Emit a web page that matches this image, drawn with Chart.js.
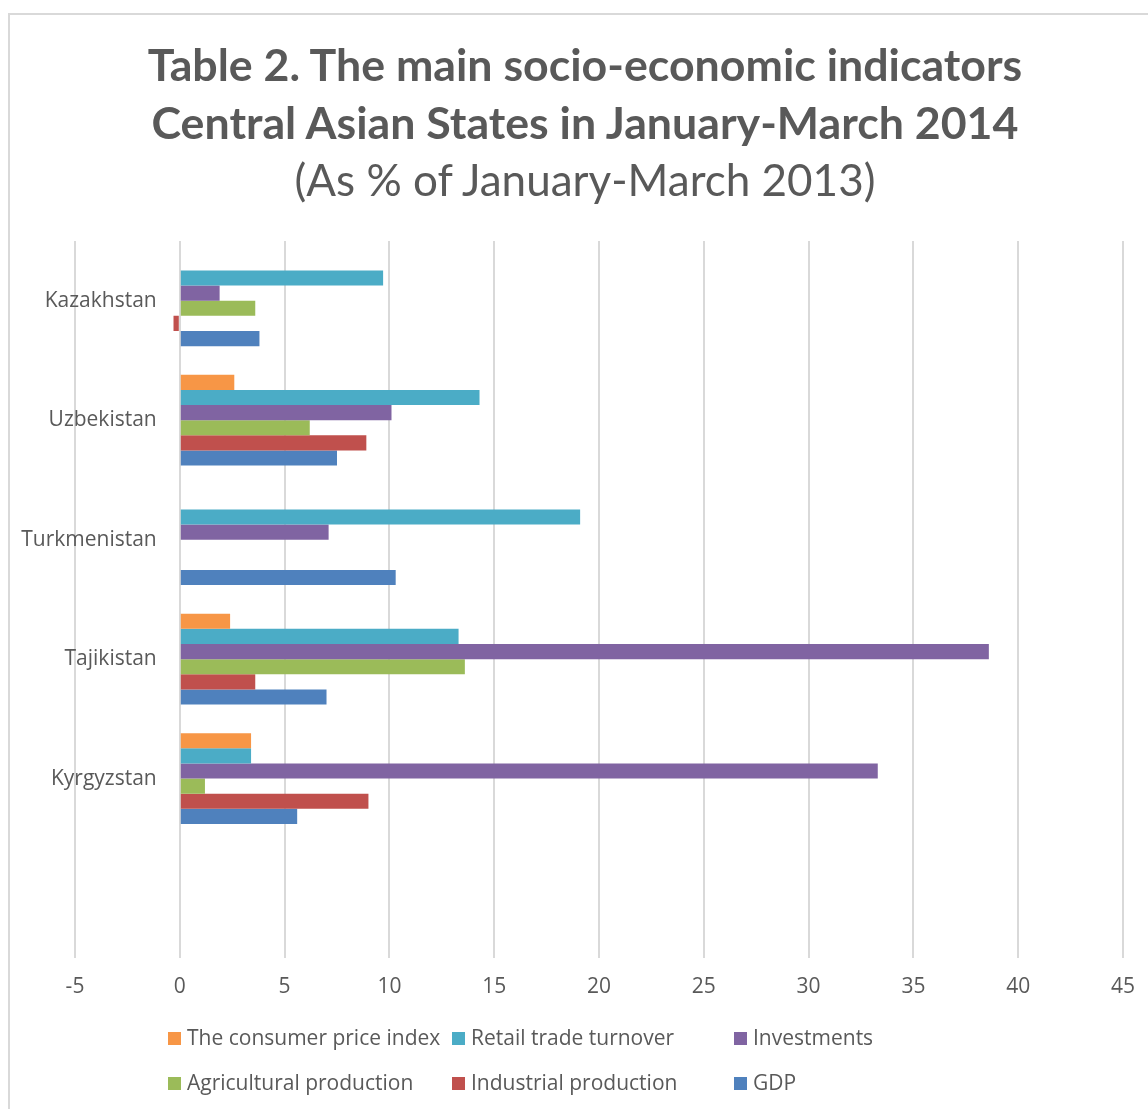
<!DOCTYPE html>
<html>
<head>
<meta charset="utf-8">
<script src="https://cdn.jsdelivr.net/npm/chart.js@4"></script>
<style>
  html, body { margin: 0; padding: 0; background: #ffffff; }
  #wrap { position: relative; width: 1148px; height: 1109px; overflow: hidden; }
  #frame { position: absolute; left: 8px; top: 13px; width: 1200px; height: 1200px; border: 2px solid #d9d9d9; box-sizing: border-box; }
  #c { position: absolute; left: 0; top: 0; }
  #title { position: absolute; left: 0; top: 36px; width: 1170px; text-align: center; font-family: Lato, sans-serif; font-size: 44px; line-height: 57.5px; color: #595959; }
  #title .b { font-weight: bold; font-size: 44.7px; }
  .lg { position: absolute; font-family: "Open Sans", sans-serif; font-size: 21px; color: #595959; white-space: nowrap; line-height: 26px; }
  .lg span.box { display: inline-block; width: 13px; height: 13px; margin-right: 6px; vertical-align: 0px; }
</style>
</head>
<body>
<div id="wrap">
  <div id="frame"></div>
  <canvas id="c" width="1152" height="1109"></canvas>
  <div id="title"><div class="b">Table 2. The main socio-economic indicators</div><div class="b">Central Asian States in January-March 2014</div><div>(As % of January-March 2013)</div></div>
  <div id="legend"></div>
</div>
<script>
const categories = ['Kazakhstan', 'Uzbekistan', 'Turkmenistan', 'Tajikistan', 'Kyrgyzstan', ''];
const seriesNames = ['The consumer price index', 'Retail trade turnover', 'Investments', 'Agricultural production', 'Industrial production', 'GDP'];
const cpi         = [null, 2.6, null, 2.4, 3.4, null];
const retail      = [9.7, 14.3, 19.1, 13.3, 3.4, null];
const investments = [1.9, 10.1, 7.1, 38.6, 33.3, null];
const agri        = [3.6, 6.2, null, 13.6, 1.2, null];
const industrial  = [-0.3, 8.9, null, 3.6, 9.0, null];
const gdp         = [3.8, 7.5, 10.3, 7.0, 5.6, null];
const xTicks      = [-5, 0, 5, 10, 15, 20, 25, 30, 35, 40, 45];
const colors = ['#F79646', '#4BACC6', '#8064A2', '#9BBB59', '#C0504D', '#4F81BD'];
const seriesValues = [cpi, retail, investments, agri, industrial, gdp];

const datasets = seriesNames.map((n, i) => ({
  label: n,
  data: seriesValues[i],
  backgroundColor: colors[i],
  borderWidth: 0,
  categoryPercentage: 0.76,
  barPercentage: 1.0
}));

const txt = '#595959';
const chart = new Chart(document.getElementById('c'), {
  type: 'bar',
  data: { labels: categories, datasets },
  options: {
    indexAxis: 'y',
    responsive: false,
    animation: false,
    layout: { padding: { left: 75, right: 17, top: 241, bottom: 92 } },
    plugins: {
      legend: { display: false },
      tooltip: { enabled: false },
      title: { display: false }
    },
    scales: {
      x: {
        type: 'linear',
        min: -5, max: 45,
        afterBuildTicks: (s) => { s.ticks = xTicks.map(v => ({ value: v })); },
        grid: { color: '#d9d9d9', lineWidth: 2, drawTicks: false },
        border: { display: false },
        ticks: { color: txt, font: { family: 'Open Sans', size: 21 }, padding: 17 }
      },
      y: {
        position: { x: -1.1 },
        grid: { display: false },
        border: { display: false },
        ticks: { color: txt, font: { family: 'Open Sans', size: 21 }, padding: 0 }
      }
    }
  }
});

// HTML legend built from the chart's datasets, 3 columns x 2 rows
const legendEl = document.getElementById('legend');
const colX = [168, 452, 734];
const rowY = [1024, 1069];
chart.data.datasets.forEach((ds, i) => {
  const d = document.createElement('div');
  d.className = 'lg';
  d.style.left = colX[i % 3] + 'px';
  d.style.top = rowY[Math.floor(i / 3)] + 'px';
  d.innerHTML = '<span class="box" style="background:' + ds.backgroundColor + '"></span>' + ds.label;
  legendEl.appendChild(d);
});
</script>
</body>
</html>
